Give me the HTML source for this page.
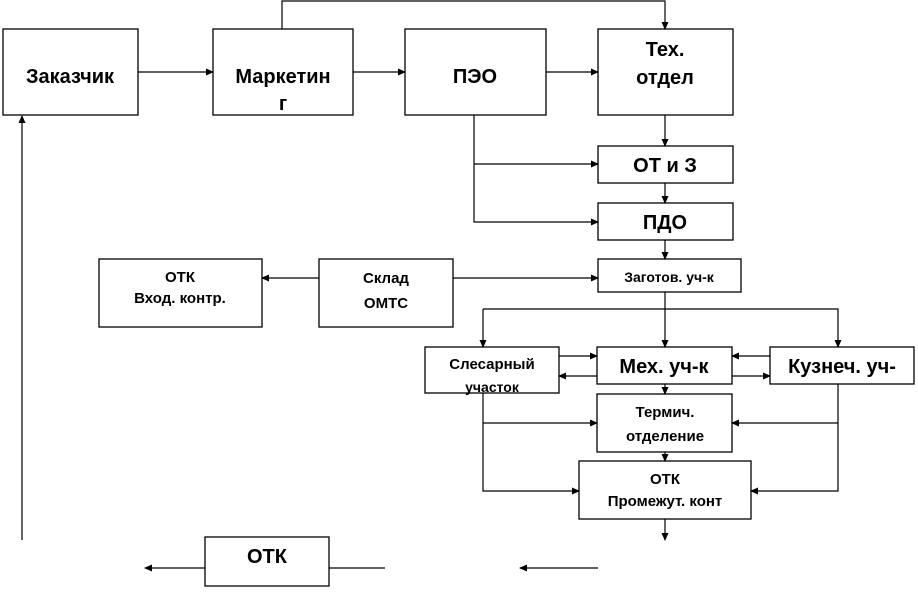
<!DOCTYPE html>
<html><head><meta charset="utf-8"><style>
body{margin:0;background:#fff}
svg text{font-family:"Liberation Sans",Arial,sans-serif;font-weight:bold;text-anchor:middle;fill:#000}
</style></head><body>
<svg width="918" height="589" viewBox="0 0 918 589" xmlns="http://www.w3.org/2000/svg">
<defs><marker id="a" markerWidth="8" markerHeight="8" refX="7" refY="4" orient="auto" markerUnits="userSpaceOnUse"><path d="M0,0.5 L8,4 L0,7.5z" fill="#000"/></marker></defs>
<g fill="#fff" stroke="#000" stroke-width="1.3">
<rect x="3" y="29" width="135" height="86"/>
<rect x="213" y="29" width="140" height="86"/>
<rect x="405" y="29" width="141" height="86"/>
<rect x="598" y="29" width="135" height="86"/>
<rect x="598" y="146" width="135" height="37"/>
<rect x="598" y="203" width="135" height="37"/>
<rect x="598" y="259" width="143" height="33"/>
<rect x="319" y="259" width="134" height="68"/>
<rect x="99" y="259" width="163" height="68"/>
<rect x="425" y="347" width="134" height="46"/>
<rect x="597" y="347" width="135" height="37"/>
<rect x="770" y="347" width="144" height="37"/>
<rect x="597" y="394" width="135" height="58"/>
<rect x="579" y="461" width="172" height="58"/>
<rect x="205" y="537" width="124" height="49"/>
</g>
<g stroke="#000" stroke-width="1.2" fill="none">
<path d="M282 29V1H665V29" marker-end="url(#a)"/>
<path d="M22 540V116" marker-end="url(#a)"/>
<path d="M138 72H213" marker-end="url(#a)"/>
<path d="M353 72H405" marker-end="url(#a)"/>
<path d="M546 72H598" marker-end="url(#a)"/>
<path d="M474 115V222H598" marker-end="url(#a)"/>
<path d="M474 164H598" marker-end="url(#a)"/>
<path d="M665 115V146" marker-end="url(#a)"/>
<path d="M665 183V203" marker-end="url(#a)"/>
<path d="M665 240V259" marker-end="url(#a)"/>
<path d="M453 278H598" marker-end="url(#a)"/>
<path d="M319 278H262" marker-end="url(#a)"/>
<path d="M665 292V347" marker-end="url(#a)"/>
<path d="M483 309H838V347" marker-end="url(#a)"/>
<path d="M483 309V347" marker-end="url(#a)"/>
<path d="M559 356H597" marker-end="url(#a)"/>
<path d="M597 376H559" marker-end="url(#a)"/>
<path d="M770 356H732" marker-end="url(#a)"/>
<path d="M732 376H770" marker-end="url(#a)"/>
<path d="M665 384V394" marker-end="url(#a)"/>
<path d="M665 452V461" marker-end="url(#a)"/>
<path d="M483 393V491H579" marker-end="url(#a)"/>
<path d="M483 423H597" marker-end="url(#a)"/>
<path d="M838 384V491H751" marker-end="url(#a)"/>
<path d="M838 423H732" marker-end="url(#a)"/>
<path d="M665 519V540" marker-end="url(#a)"/>
<path d="M598 568H520" marker-end="url(#a)"/>
<path d="M385 568H329"/>
<path d="M205 568H145" marker-end="url(#a)"/>
</g>
<g font-size="20">
<text x="70" y="83">Заказчик</text>
<text x="283" y="83">Маркетин</text>
<text x="283" y="110">г</text>
<text x="475" y="83">ПЭО</text>
<text x="665" y="56">Тех.</text>
<text x="665" y="84">отдел</text>
<text x="665" y="172">ОТ и З</text>
<text x="665" y="229">ПДО</text>
<text x="664" y="373">Мех. уч-к</text>
<text x="842" y="373">Кузнеч. уч-</text>
<text x="267" y="563">ОТК</text>
</g>
<g font-size="15">
<text x="386" y="283">Склад</text>
<text x="386" y="308">ОМТС</text>
<text x="180" y="282">ОТК</text>
<text x="180" y="303">Вход. контр.</text>
<text x="669" y="282" font-size="14">Заготов. уч-к</text>
<text x="492" y="369">Слесарный</text>
<text x="492" y="392" font-size="14">участок</text>
<text x="665" y="417">Термич.</text>
<text x="665" y="441">отделение</text>
<text x="665" y="484">ОТК</text>
<text x="665" y="506">Промежут. конт</text>
</g>
</svg>
</body></html>
